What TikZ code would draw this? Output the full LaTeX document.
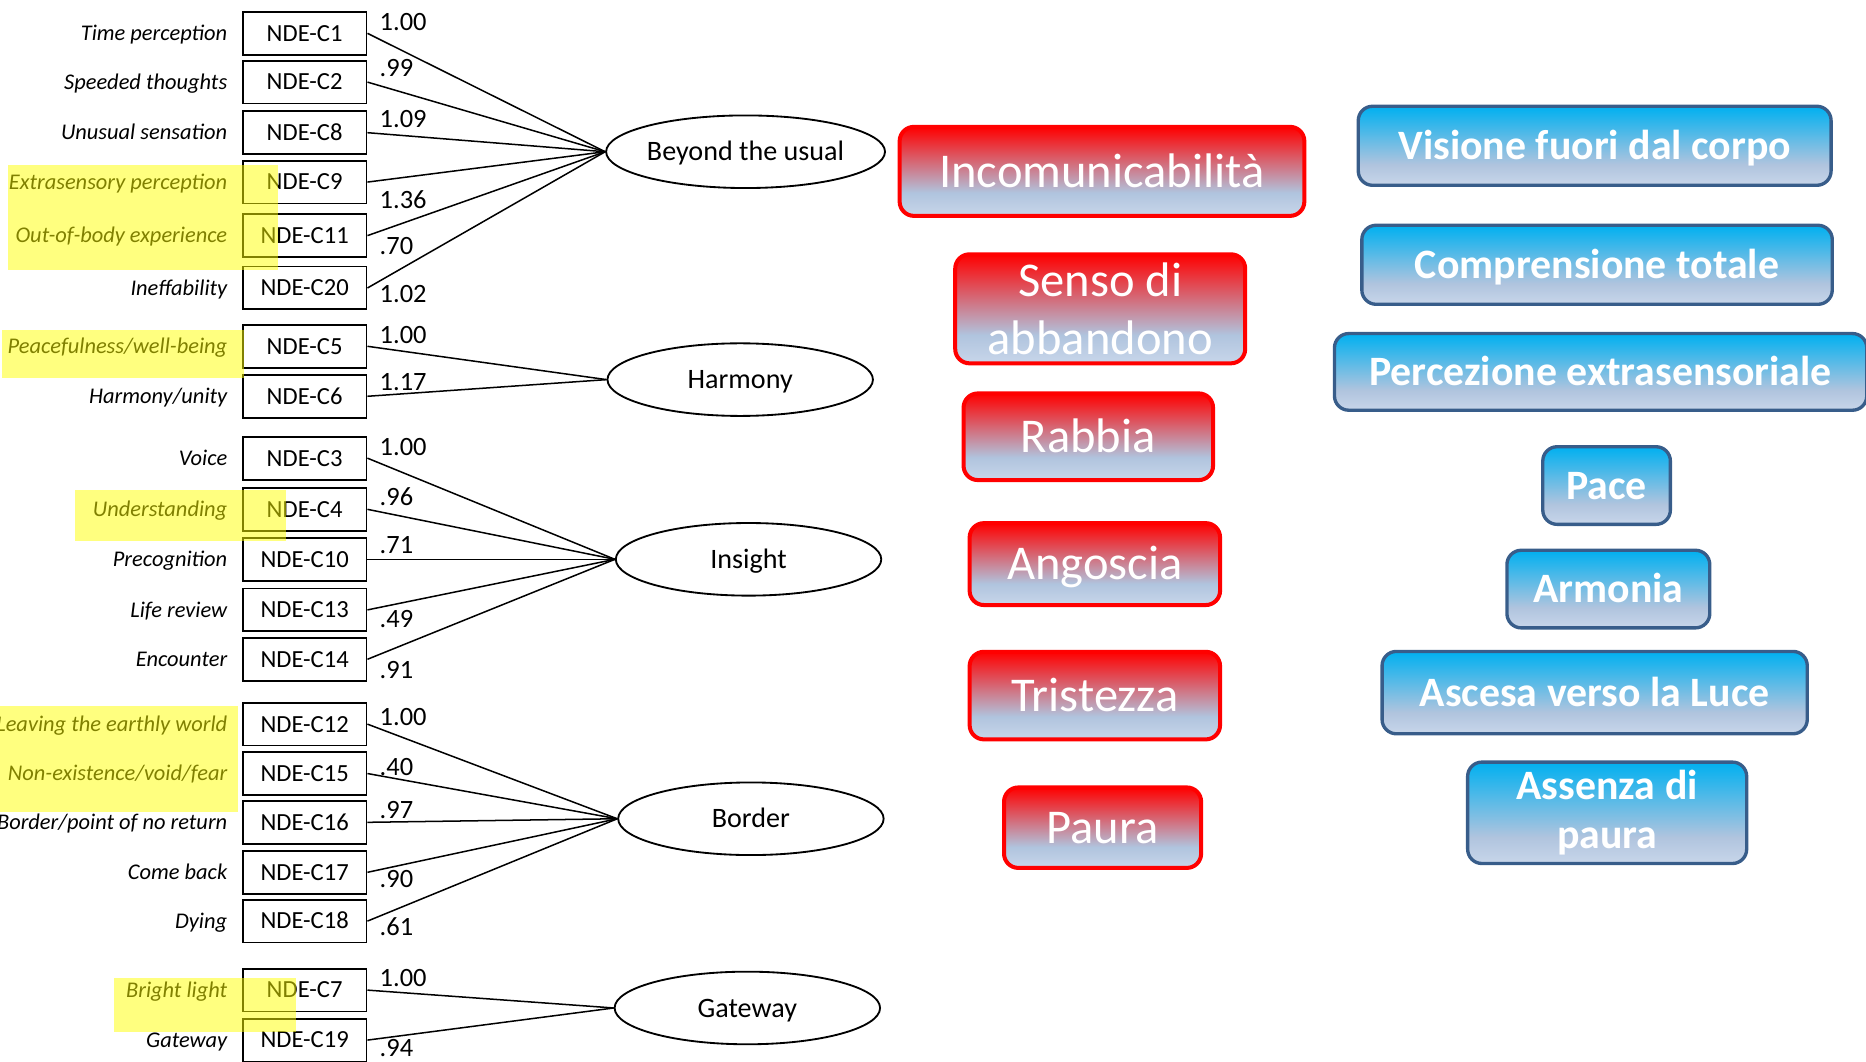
\documentclass[tikz,border=0pt]{standalone}
\usepackage{fontspec}
\setmainfont{Carlito}
\usepackage{xcolor}
\usepackage{tikz}
\usetikzlibrary{positioning,shapes.geometric}

\definecolor{lsb}{RGB}{176,196,222}
\definecolor{lsbl}{RGB}{200,214,234}
\definecolor{skyc}{RGB}{0,176,240}
\definecolor{navyb}{RGB}{56,93,138}
\definecolor{hilite}{RGB}{255,255,0}

\pgfdeclareverticalshading{redfade}{100bp}{color(0bp)=(lsbl); color(25bp)=(lsbl); color(38bp)=(lsb); color(75bp)=(red); color(100bp)=(red)}
\pgfdeclareverticalshading{bluefade}{100bp}{color(0bp)=(lsbl); color(25bp)=(lsbl); color(38bp)=(lsb); color(75bp)=(skyc); color(100bp)=(skyc)}

\tikzset{
  ind/.style={draw, line width=1.1pt, minimum width=2.6cm, minimum height=0.9cm, inner sep=0pt,
    font=\fontsize{14.7}{17}\selectfont, text height=9.4pt, text depth=0pt},
  lab/.style={inner sep=0pt, font=\fontsize{13.4}{15}\selectfont\itshape, text height=8.6pt, text depth=0pt},
  load/.style={anchor=west, inner sep=0pt, font=\fontsize{15.8}{18}\selectfont, text height=10pt, text depth=0pt},
  factor/.style={draw, ellipse, line width=1.1pt, minimum width=5.575cm, minimum height=1.525cm, inner sep=0pt,
    font=\fontsize{16.8}{19}\selectfont, text height=10.8pt, text depth=0pt},
  link/.style={line width=0.9pt},
  redbox/.style={draw=red, line width=2.4pt, rounded corners=0.3cm, shading=redfade, text=white, inner sep=0pt,
    align=center, font=\fontsize{29}{35}\selectfont, text height=18.7pt, text depth=0pt},
  bluebox/.style={draw=navyb, line width=2pt, rounded corners=0.3cm, shading=bluefade, text=white, inner sep=0pt,
    align=center, font=\fontsize{25}{29.5}\selectfont\bfseries, text height=16.1pt, text depth=0pt}
}

\begin{document}
\begin{tikzpicture}[x=0.025cm, y=-0.025cm]
  \useasboundingbox (0,0) rectangle (1568,892);

  \node[factor] (beyond) at (626.5,127.5) {Beyond the usual};
  \node[factor] (harmony) at (622,319) {Harmony};
  \node[factor] (insight) at (629,470) {Insight};
  \node[factor] (border) at (631,688) {Border};
  \node[factor] (gateway) at (628,847) {Gateway};

  \foreach \nm/\yy/\f/\ld/\dy/\lab in {
      C1/28/beyond/1.00/-9/Time perception,
      C2/69/beyond/.99/-12/Speeded thoughts,
      C8/111.5/beyond/1.09/-11.5/Unusual sensation,
      C9/153/beyond/1.36/15/Extrasensory perception,
      C11/198/beyond/.70/9/Out-of-body experience,
      C20/242/beyond/1.02/5/Ineffability,
      C5/291/harmony/1.00/-9/{Peacefulness/well-being},
      C6/333/harmony/1.17/-12/{Harmony/unity},
      C3/385/insight/1.00/-9/Voice,
      C4/428/insight/.96/-10/Understanding,
      C10/470/insight/.71/-12/Precognition,
      C13/512.5/insight/.49/7.5/Life review,
      C14/554/insight/.91/9/Encounter,
      C12/608.5/border/1.00/-5.5/Leaving the earthly world,
      C15/650/border/.40/-5/{Non-existence/void/fear},
      C16/691/border/.97/-10/{Border/point of no return},
      C17/733/border/.90/6/Come back,
      C18/774/border/.61/5/Dying,
      C7/832/gateway/1.00/-10/Bright light,
      C19/874/gateway/.94/7/Gateway}
  {
    \node[ind] (\nm) at (256,\yy) {NDE-\nm};
    \node[lab, left=0.3cm of \nm] (t\nm) {\lab};
    \node[load] (l\nm) at ([shift={(10,\dy)}]\nm.east) {\ld};
    \draw[link] (\nm.east) -- (\f.west);
  }

  \fill[hilite, fill opacity=0.5] (7,139) rectangle (234,227);
  \fill[hilite, fill opacity=0.5] (2,277) rectangle (205,318);
  \fill[hilite, fill opacity=0.5] (63,412) rectangle (240,455);
  \fill[hilite, fill opacity=0.5] (0,593) rectangle (200,682);
  \fill[hilite, fill opacity=0.5] (96,822) rectangle (249,867);

  \node[redbox, minimum width=8.5cm, minimum height=1.87cm] (inco) at (926,144) {Incomunicabilità};
  \node[redbox, minimum width=6.09cm, minimum height=2.29cm, text height={}, text depth={}] (senso) at (924.5,259.5) {Senso di\\abbandono};
  \node[redbox, minimum width=5.24cm, minimum height=1.82cm] (rabbia) at (914.5,367) {Rabbia};
  \node[redbox, minimum width=5.26cm, minimum height=1.72cm] (angoscia) at (920,474) {Angoscia};
  \node[redbox, minimum width=5.26cm, minimum height=1.84cm] (tristezza) at (920,584.5) {Tristezza};
  \node[redbox, minimum width=4.14cm, minimum height=1.69cm] (paura) at (926.5,695.5) {Paura};

  \node[bluebox, minimum width=9.93cm, minimum height=1.66cm] (visione) at (1340,122.5) {Visione fuori dal corpo};
  \node[bluebox, minimum width=9.88cm, minimum height=1.66cm] (comprensione) at (1342,222.5) {Comprensione totale};
  \node[bluebox, minimum width=11.18cm, minimum height=1.61cm] (percezione) at (1345,312.5) {Percezione extrasensoriale};
  \node[bluebox, minimum width=2.68cm, minimum height=1.63cm] (pace) at (1350,408) {Pace};
  \node[bluebox, minimum width=4.26cm, minimum height=1.63cm] (armonia) at (1351.5,495) {Armonia};
  \node[bluebox, minimum width=8.93cm, minimum height=1.73cm] (ascesa) at (1340,582) {Ascesa verso la Luce};
  \node[bluebox, minimum width=5.86cm, minimum height=2.13cm, text height={}, text depth={}] (assenza) at (1350.5,683) {Assenza di\\paura};
\end{tikzpicture}
\end{document}
